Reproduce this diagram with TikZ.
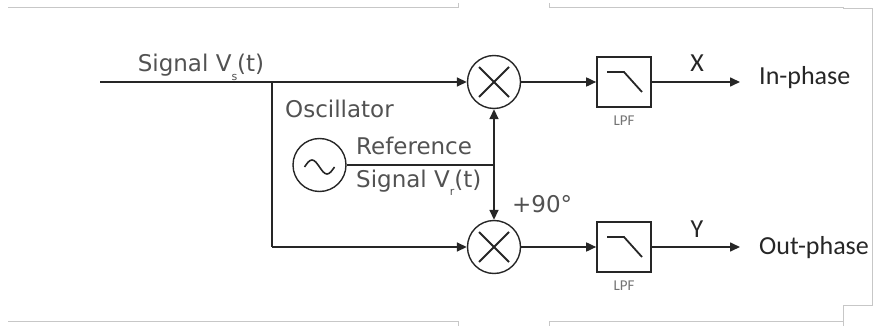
\documentclass[tikz,border=0pt]{standalone}
\usepackage{fontspec}
\setmainfont{DejaVu Sans}
\newfontfamily\calib{Carlito}
\usetikzlibrary{arrows.meta}
\newcommand{\lowsub}[1]{\raisebox{-0.35em}{\fontsize{11}{12}\selectfont #1}}
\begin{document}
\begin{tikzpicture}[x=1pt,y=-1pt,
  wire/.style={line width=1.6pt, draw=black!85},
  arr/.style={wire,-{Triangle[length=10pt,width=9pt]}},
  mix/.style={circle, draw=black!85, line width=1.4pt, minimum size=53pt, inner sep=0pt},
  lpf/.style={rectangle, draw=black!85, line width=1.6pt, minimum width=54pt, minimum height=50pt, inner sep=0pt},
  lbl/.style={font=\fontsize{23}{27}\selectfont, text=black!68, inner sep=0pt},
  outlbl/.style={font=\calib\fontsize{26}{30}\selectfont, text=black!85, inner sep=0pt},
  small/.style={font=\calib\fontsize{15}{16}\selectfont, text=black!55, inner sep=0pt},
  frameline/.style={draw=black!22, line width=0.8pt},
  sym/.style={line width=1.8pt, draw=black!85}
]
\useasboundingbox (0,0) rectangle (873,326);
% frame artefacts
\draw[frameline] (458,3) -- (458,7) -- (8,7);
\draw[frameline] (549,3) -- (549,7) -- (843,7) -- (843,8) -- (872,8) -- (872,305) -- (843,305) -- (843,326);
\draw[frameline] (8,321) -- (458,321) -- (458,326);
\draw[frameline] (549,326) -- (549,321) -- (843,321);

% nodes
\coordinate (in) at (100,82);
\coordinate (br) at (272,82);
\coordinate (br2) at (272,247);
\node[mix] (m1) at (494,82) {};
\node[mix] (m2) at (494,247) {};
\node[mix] (osc) at (319.5,165) {};
\coordinate (j) at (494,165);
\node[lpf] (f1) at (624,82) {};
\node[lpf] (f2) at (624,247) {};
\coordinate (o1) at (740,82);
\coordinate (o2) at (740,247);

% symbols
\draw[sym] (m1) ++(-15,-15) -- ++(30,30);
\draw[sym] (m1) ++(15,-15) -- ++(-30,30);
\draw[sym] (m2) ++(-15,-15) -- ++(30,30);
\draw[sym] (m2) ++(15,-15) -- ++(-30,30);
\draw[wire] (osc) ++(-15,2) sin ++(7.5,-7) cos ++(7.5,7) sin ++(7.5,7) cos ++(7.5,-7);
\draw[sym] (f1.center) ++(-17,-10) -- ++(17,0) -- ++(18,20);
\draw[sym] (f2.center) ++(-17,-10) -- ++(17,0) -- ++(18,20);

% connectors
\draw[arr] (in) -- (m1.west);
\draw[wire] (br) -- (br2);
\draw[arr] (br2) -- (m2.west);
\draw[wire] (osc.east) -- (j);
\draw[arr] (j) -- (m1.south);
\draw[arr] (j) -- (m2.north);
\draw[arr] (m1.east) -- (f1.west);
\draw[arr] (m2.east) -- (f2.west);
\draw[arr] (f1.east) -- (o1);
\draw[arr] (f2.east) -- (o2);

% labels
\node[lbl, anchor=base] (ls) at (201,72) {Signal V\lowsub{s}(t)};
\node[lbl, anchor=base west] (losc) at (285,118) {Oscillator};
\node[lbl, anchor=base west] (lref) at (356,154) {Reference};
\node[lbl, anchor=base west] (lsr) at (356,187) {Signal V\lowsub{r}(t)};
\node[lbl, anchor=base west] (l90) at (512,212) {+90°};
\node[small] (lp1) at (624,121) {LPF};
\node[small] (lp2) at (624,286) {LPF};
\node[outlbl, anchor=base] (lx) at (697,72) {X};
\node[outlbl, anchor=base] (ly) at (697,237) {Y};
\node[outlbl, anchor=base west] (lin) at (759,85) {In-phase};
\node[outlbl, anchor=base west] (lout) at (759,254) {Out-phase};
\end{tikzpicture}
\end{document}
